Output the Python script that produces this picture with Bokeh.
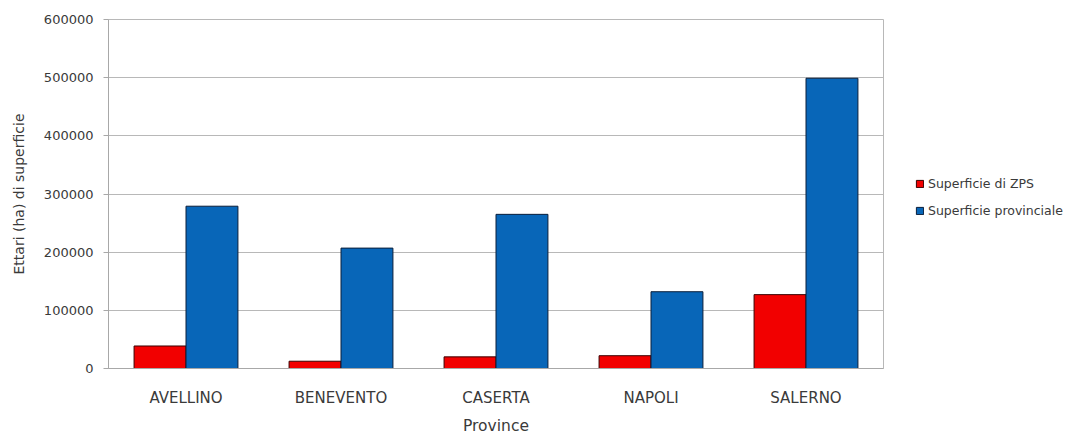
from bokeh.plotting import figure
from bokeh.layouts import row
from bokeh.models import (FactorRange, Range1d, SingleIntervalTicker, NumeralTickFormatter,
                          Legend, LegendItem, ColumnDataSource)
from bokeh.transform import dodge
from bokeh.embed import file_html
from bokeh.resources import INLINE

provinces = ["AVELLINO", "BENEVENTO", "CASERTA", "NAPOLI", "SALERNO"]
superficie_zps = [38700, 12500, 20000, 22000, 127000]
superficie_provinciale = [279000, 207000, 265000, 132000, 499000]
series_names = ["Superficie di ZPS", "Superficie provinciale"]
y_ticks_interval = 100000

FONT = "DejaVu Sans"
TXT = "#3a3a3a"
RED = "#f20000"
BLUE = "#0866b8"

src = ColumnDataSource(dict(prov=provinces, zps=superficie_zps, tot=superficie_provinciale))

p = figure(width=884, height=437, output_backend="svg", toolbar_location=None,
           x_range=FactorRange(factors=provinces), y_range=Range1d(0, 600000),
           min_border_left=108, min_border_right=1, min_border_top=19, min_border_bottom=61)

r1 = p.vbar(x=dodge("prov", -0.1675, range=p.x_range), top="zps", width=0.335, source=src,
            fill_color=RED, line_color="#3a0000", line_width=1)
r2 = p.vbar(x=dodge("prov", 0.1675, range=p.x_range), top="tot", width=0.335, source=src,
            fill_color=BLUE, line_color="#0a1e3a", line_width=1)

p.background_fill_color = "white"
p.border_fill_color = "white"
p.outline_line_color = "#b8b8b8"

p.xgrid.grid_line_color = None
p.ygrid.grid_line_color = "#b8b8b8"

p.yaxis.ticker = SingleIntervalTicker(interval=y_ticks_interval)
p.yaxis.formatter = NumeralTickFormatter(format="0")
p.yaxis.minor_tick_line_color = None
p.yaxis.major_tick_in = 0
p.yaxis.major_tick_out = 5
p.yaxis.major_tick_line_color = "#a8a8a8"
p.yaxis.axis_line_color = "#a8a8a8"
p.yaxis.major_label_standoff = 10
p.yaxis.major_label_text_font = FONT
p.yaxis.major_label_text_font_size = "13px"
p.yaxis.major_label_text_color = TXT
p.yaxis.axis_label = "Ettari (ha) di superficie"
p.yaxis.axis_label_text_font = FONT
p.yaxis.axis_label_text_font_size = "14px"
p.yaxis.axis_label_text_font_style = "normal"
p.yaxis.axis_label_text_color = TXT
p.yaxis.axis_label_standoff = 14

p.xaxis.major_tick_line_color = None
p.xaxis.minor_tick_line_color = None
p.xaxis.axis_line_color = "#a8a8a8"
p.xaxis.major_label_standoff = 14
p.xaxis.major_label_text_font = FONT
p.xaxis.major_label_text_font_size = "15px"
p.xaxis.major_label_text_color = TXT
p.xaxis.axis_label = "Province"
p.xaxis.axis_label_text_font = FONT
p.xaxis.axis_label_text_font_size = "15.5px"
p.xaxis.axis_label_text_font_style = "normal"
p.xaxis.axis_label_text_color = TXT
p.xaxis.axis_label_standoff = 7

# legend panel on the right
p2 = figure(width=184, height=437, output_backend="svg", toolbar_location=None,
            x_range=Range1d(0, 1), y_range=Range1d(0, 1),
            x_axis_location=None, y_axis_location=None,
            min_border_left=0, min_border_right=0, min_border_top=0, min_border_bottom=0)
p2.outline_line_color = None
p2.grid.visible = False
p2.border_fill_color = "white"
e = ColumnDataSource(dict(x=[5], top=[5]))
l1 = p2.vbar(x="x", top="top", width=0.1, source=e, fill_color=RED, line_color="#3a0000")
l2 = p2.vbar(x="x", top="top", width=0.1, source=e, fill_color=BLUE, line_color="#0a1e3a")

legend = Legend(items=[LegendItem(label=series_names[0], renderers=[l1]),
                       LegendItem(label=series_names[1], renderers=[l2])],
                location=(31, 148), orientation="vertical",
                border_line_color=None, background_fill_alpha=0,
                padding=0, margin=0, spacing=7, label_height=20,
                glyph_width=9, glyph_height=9, label_standoff=4,
                label_text_font=FONT, label_text_font_size="12.5px", label_text_color=TXT)
p2.add_layout(legend, "center")

open("out.html", "w").write(file_html(row(p, p2), INLINE))
